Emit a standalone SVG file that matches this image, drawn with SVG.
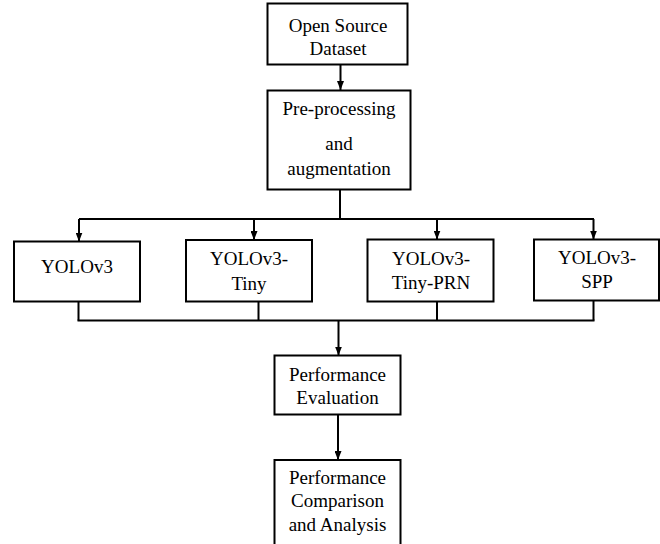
<svg xmlns="http://www.w3.org/2000/svg" width="660" height="544" viewBox="0 0 660 544">
<defs>
<style>
.box{fill:#fff;stroke:#000;stroke-width:2}
.t{font-family:"Liberation Serif","Times New Roman",serif;font-size:19px;fill:#000;text-anchor:middle}
.c{fill:none;stroke:#000;stroke-width:2}
</style>
<marker id="ah" viewBox="0 0 9 7" refX="9" refY="3.5" markerWidth="9" markerHeight="7" markerUnits="userSpaceOnUse" orient="auto">
<path d="M0,0 L9,3.5 L0,7 z" fill="#000"/>
</marker>
</defs>
<rect width="660" height="544" fill="#fff"/>
<g id="connectors">
<path class="c" d="M340.5,64 V90" marker-end="url(#ah)"/>
<path class="c" d="M340,189 V219"/>
<path class="c" d="M79,219 H594"/>
<path class="c" d="M79,219 V241.5" marker-end="url(#ah)"/>
<path class="c" d="M254,219 V240" marker-end="url(#ah)"/>
<path class="c" d="M437,219 V239.5" marker-end="url(#ah)"/>
<path class="c" d="M593.5,219 V239.5" marker-end="url(#ah)"/>
<path class="c" d="M78.5,302 V320.5"/>
<path class="c" d="M258.5,302 V320.5"/>
<path class="c" d="M437,302 V320.5"/>
<path class="c" d="M593.5,301 V320.5"/>
<path class="c" d="M77.5,320.5 H594.5"/>
<path class="c" d="M338.5,320.5 V355.5" marker-end="url(#ah)"/>
<path class="c" d="M338,414 V460" marker-end="url(#ah)"/>
</g>
<g id="open-source-dataset">
<rect class="box" x="267.5" y="3.5" width="140" height="61"/>
<text class="t" x="338" y="32">Open Source</text>
<text class="t" x="338" y="55">Dataset</text>
</g>
<g id="preprocessing">
<rect class="box" x="267.5" y="90.5" width="143" height="99"/>
<text class="t" x="339" y="115">Pre-processing</text>
<text class="t" x="339" y="150">and</text>
<text class="t" x="339" y="175">augmentation</text>
</g>
<g id="yolov3">
<rect class="box" x="14" y="241.5" width="126" height="60"/>
<text class="t" x="77" y="273">YOLOv3</text>
</g>
<g id="yolov3-tiny">
<rect class="box" x="186" y="240" width="126" height="61.5"/>
<text class="t" x="249" y="265">YOLOv3-</text>
<text class="t" x="249" y="290">Tiny</text>
</g>
<g id="yolov3-tiny-prn">
<rect class="box" x="367.5" y="239.5" width="126" height="62"/>
<text class="t" x="431" y="265">YOLOv3-</text>
<text class="t" x="431" y="289">Tiny-PRN</text>
</g>
<g id="yolov3-spp">
<rect class="box" x="534" y="239.5" width="125" height="61"/>
<text class="t" x="597" y="264">YOLOv3-</text>
<text class="t" x="597" y="288">SPP</text>
</g>
<g id="performance-evaluation">
<rect class="box" x="274.5" y="355.5" width="126" height="59"/>
<text class="t" x="337.5" y="381">Performance</text>
<text class="t" x="337.5" y="404">Evaluation</text>
</g>
<g id="performance-comparison">
<rect class="box" x="274.5" y="460" width="126" height="90"/>
<text class="t" x="337.5" y="484">Performance</text>
<text class="t" x="337.5" y="507">Comparison</text>
<text class="t" x="337.5" y="531">and Analysis</text>
</g>
</svg>
